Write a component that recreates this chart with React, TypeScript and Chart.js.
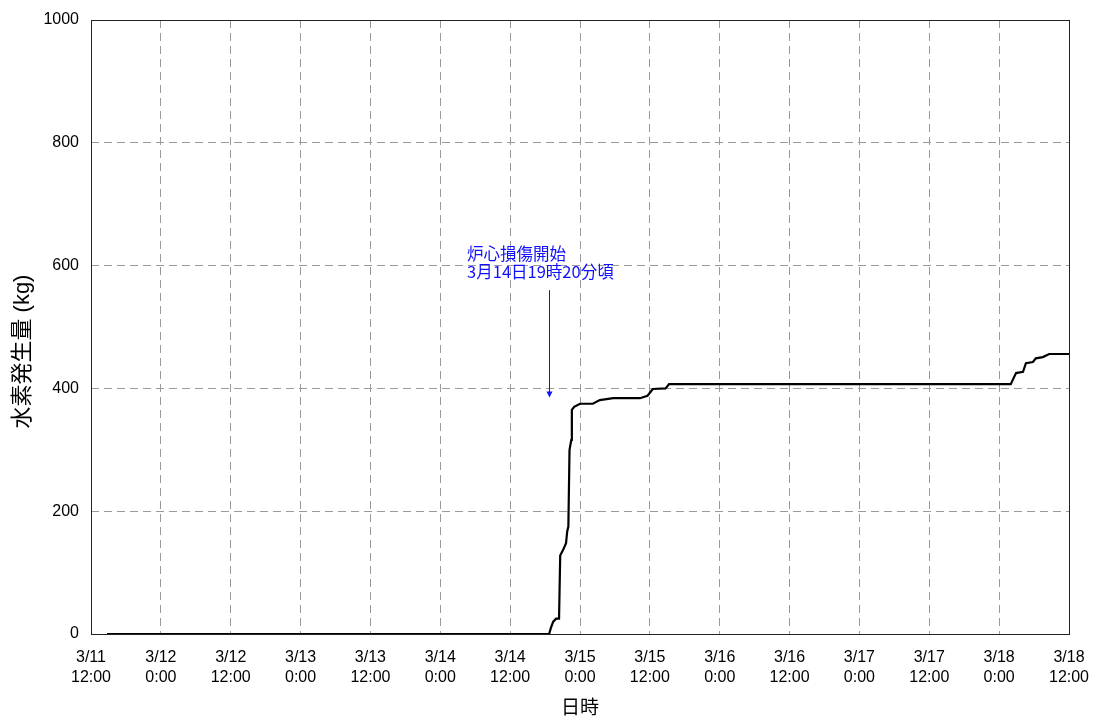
import React, { useEffect, useRef } from "react";
import { Chart, registerables } from "chart.js";

Chart.register(...registerables);

// hours elapsed since 3/11 12:00
const hours = [
  2.75, 78.7, 79.0, 79.4, 79.9, 80.4, 80.6, 81.1, 81.6, 81.8, 82.0, 82.2, 82.5, 82.6, 83.0, 84.0,
  86.2, 87.4, 89.7, 94.3, 95.6, 96.5, 98.7, 99.3, 158.0, 158.2, 158.9, 160.1, 160.6, 161.8, 162.3,
  163.5, 164.6, 168,
];
// cumulative hydrogen generation (kg)
const hydrogenKg = [
  0, 0, 10, 20, 25, 25, 128, 137, 148, 167, 175, 300, 316, 365, 370, 375,
  375, 381, 384, 384, 388, 399, 400, 407, 407, 411, 425, 427, 441, 443, 449,
  451, 456, 456,
];

const xTickLabels = [
  ["3/11", "12:00"], ["3/12", "0:00"], ["3/12", "12:00"], ["3/13", "0:00"], ["3/13", "12:00"],
  ["3/14", "0:00"], ["3/14", "12:00"], ["3/15", "0:00"], ["3/15", "12:00"], ["3/16", "0:00"],
  ["3/16", "12:00"], ["3/17", "0:00"], ["3/17", "12:00"], ["3/18", "0:00"], ["3/18", "12:00"],
];

const xTitle = "日時";
const yTitle = "水素発生量 (kg)";
const yTitleCenterKg = 460; // vertical centre of the y-axis title, in kg units

const annotationLines = ["炉心損傷開始", "3月14日19時20分頃"];
const annotationTextAt = [64.6, 620]; // [hour, kg] left / first-line centre
const annotationArrowX = 78.7; // hour
const annotationArrowFromTo = [560, 385]; // kg

const FONT = '"Liberation Sans", Arial, "Noto Sans CJK JP", sans-serif';

const framePlugin = {
  id: "frameAndNote",
  afterDatasetsDraw(chart: any) {
    const { ctx, chartArea, scales } = chart;
    const xs = scales.x;
    const ys = scales.y;
    ctx.save();
    // frame
    ctx.strokeStyle = "#222";
    ctx.lineWidth = 1;
    ctx.strokeRect(
      Math.round(chartArea.left) + 0.5,
      Math.round(chartArea.top) + 0.5,
      Math.round(chartArea.right - chartArea.left),
      Math.round(chartArea.bottom - chartArea.top)
    );
    // y title
    ctx.save();
    ctx.fillStyle = "#000";
    ctx.font = "22px " + FONT;
    ctx.textAlign = "center";
    ctx.textBaseline = "middle";
    ctx.translate(23, ys.getPixelForValue(yTitleCenterKg));
    ctx.rotate(-Math.PI / 2);
    ctx.fillText(yTitle, 0, 0);
    ctx.restore();
    // annotation
    ctx.fillStyle = "#1010ff";
    ctx.strokeStyle = "#1010ff";
    ctx.font = '16.5px "Noto Sans CJK JP", "Liberation Sans", sans-serif';
    ctx.textBaseline = "middle";
    ctx.textAlign = "left";
    const tx = xs.getPixelForValue(annotationTextAt[0]);
    const ty = ys.getPixelForValue(annotationTextAt[1]);
    annotationLines.forEach((t, i) => ctx.fillText(t, tx, ty + i * 18));
    const ax = Math.round(xs.getPixelForValue(annotationArrowX)) + 0.5;
    const ay1 = ys.getPixelForValue(annotationArrowFromTo[0]);
    const ay2 = ys.getPixelForValue(annotationArrowFromTo[1]);
    ctx.lineWidth = 1;
    ctx.beginPath();
    ctx.moveTo(ax, ay1);
    ctx.lineTo(ax, ay2 - 5);
    ctx.stroke();
    ctx.beginPath();
    ctx.moveTo(ax - 3, ay2 - 6);
    ctx.lineTo(ax + 3, ay2 - 6);
    ctx.lineTo(ax, ay2);
    ctx.closePath();
    ctx.fill();
    ctx.restore();
  },
};

export default function App() {
  const ref = useRef<HTMLCanvasElement>(null);
  useEffect(() => {
    if (!ref.current) return;
    const points = hours.map((h, i) => ({ x: h, y: hydrogenKg[i] }));
    const chart = new Chart(ref.current, {
      type: "line",
      data: {
        datasets: [
          {
            data: points,
            borderColor: "#000",
            borderWidth: 2.2,
            pointRadius: 0,
            tension: 0,
            fill: false,
          },
        ],
      },
      options: {
        responsive: false,
        animation: false,
        layout: { padding: { top: 20, right: 26, left: 0, bottom: 0 } },
        plugins: { legend: { display: false }, tooltip: { enabled: false } },
        scales: {
          x: {
            type: "linear",
            min: 0,
            max: 168,
            afterFit: (s: any) => {
              s.height = 86;
              s.paddingLeft = 0;
              s.paddingRight = 0;
            },
            ticks: {
              stepSize: 12,
              autoSkip: false,
              maxRotation: 0,
              padding: 14,
              color: "#000",
              font: { family: FONT, size: 16, lineHeight: 1.25 },
              callback: (v: any) => xTickLabels[Math.round(Number(v) / 12)],
            },
            grid: {
              color: "#9a9a9a",
              drawTicks: false,
              lineWidth: 1,
            },
            border: { display: false, dash: [8, 5] },
            title: {
              display: true,
              text: xTitle,
              color: "#000",
              font: { family: FONT, size: 19 },
              padding: { top: 2, bottom: 0 },
            },
          },
          y: {
            min: 0,
            max: 1000,
            afterFit: (s: any) => {
              s.width = 91;
              s.paddingTop = 0;
              s.paddingBottom = 0;
            },
            ticks: {
              stepSize: 200,
              padding: 12,
              color: "#000",
              font: { family: FONT, size: 16 },
              callback: (v: any) => String(v),
            },
            grid: {
              color: "#9a9a9a",
              drawTicks: false,
              lineWidth: 1,
            },
            border: { display: false, dash: [8, 5] },
          },
        },
      },
      plugins: [framePlugin],
    } as any);
    return () => chart.destroy();
  }, []);
  return (
    <div style={{ position: "absolute", left: 0, top: 0, width: 1095, height: 720, background: "#fff" }}>
      <canvas ref={ref} width={1095} height={720} style={{ width: 1095, height: 720 }} />
    </div>
  );
}
